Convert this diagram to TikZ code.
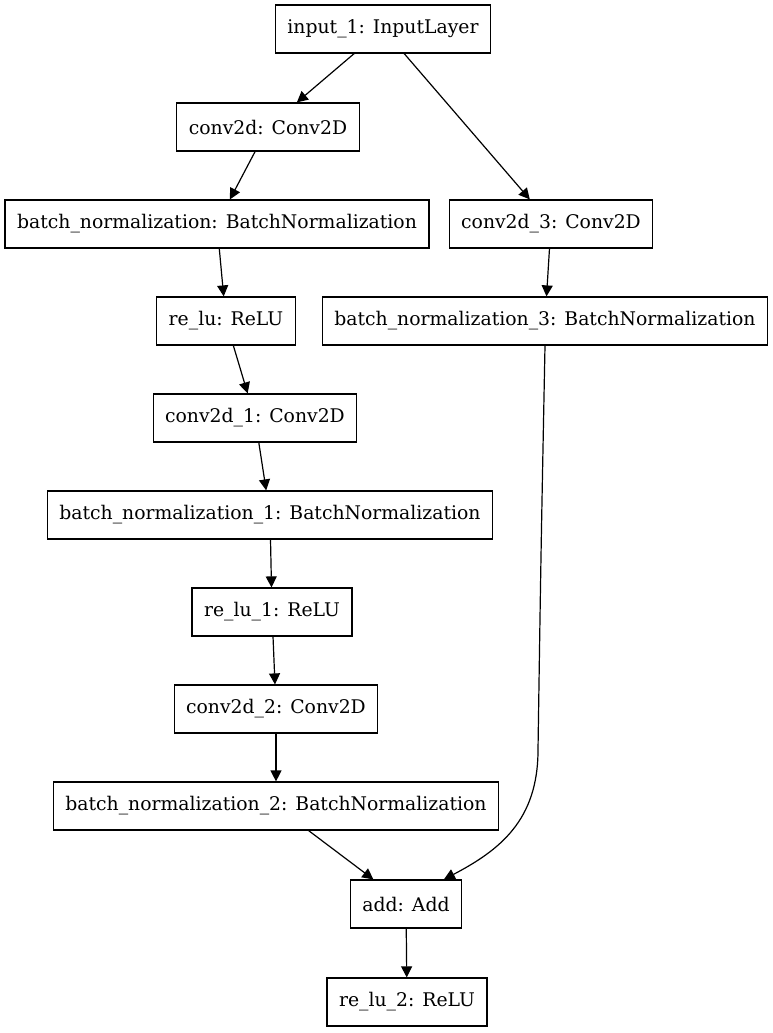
\documentclass[tikz,border=0pt]{standalone}
\usepackage{fontspec}
\setmainfont{DejaVu Serif}
\usetikzlibrary{arrows.meta}

\tikzset{
	layer/.style={draw=black, line width=0.6pt, rectangle, inner xsep=6pt,
	minimum height=24pt, font=\fontsize{9.4}{11}\selectfont},
	pfeil/.style={line width=0.6pt, -{Triangle[length=5.5pt, width=5.5pt]}}
}

\begin{document}
\begin{tikzpicture}[x=0.5pt, y=-0.5pt]
	\useasboundingbox (0, 0) rectangle (772, 1033);
	% Schichten links
	\node[layer] (input) at (383, 29) {input\_1: InputLayer};
	\node[layer] (conv) at (268, 127) {conv2d: Conv2D};
	\node[layer] (bn) at (217, 224) {batch\_normalization: BatchNormalization};
	\node[layer] (relu) at (226, 321) {re\_lu: ReLU};
	\node[layer] (convA) at (255, 418) {conv2d\_1: Conv2D};
	\node[layer] (bnA) at (270, 515) {batch\_normalization\_1: BatchNormalization};
	\node[layer] (reluA) at (272, 612) {re\_lu\_1: ReLU};
	\node[layer] (convB) at (276, 709) {conv2d\_2: Conv2D};
	\node[layer] (bnB) at (276, 806) {batch\_normalization\_2: BatchNormalization};
	% Schichten rechts
	\node[layer] (convC) at (551, 224) {conv2d\_3: Conv2D};
	\node[layer] (bnC) at (545, 321) {batch\_normalization\_3: BatchNormalization};
	% Ausgang
	\node[layer] (add) at (406, 904) {add: Add};
	\node[layer] (reluB) at (407, 1002) {re\_lu\_2: ReLU};

	% Verbindungen
	\draw[pfeil] (input) -- (conv);
	\draw[pfeil] (conv) -- (bn);
	\draw[pfeil] (bn) -- (relu);
	\draw[pfeil] (relu) -- (convA);
	\draw[pfeil] (convA) -- (bnA);
	\draw[pfeil] (bnA) -- (reluA);
	\draw[pfeil] (reluA) -- (convB);
	\draw[pfeil] (convB) -- (bnB);
	\draw[pfeil] (bnB) -- (add);
	\draw[pfeil] (input) -- (convC);
	\draw[pfeil] (convC) -- (bnC);
	\coordinate (knick) at (538, 750);
	\draw[pfeil] (bnC.south) .. controls (541, 550) .. (knick)
		.. controls (538, 820) and (500, 850) .. (add.33);
	\draw[pfeil] (add) -- (reluB);
\end{tikzpicture}
\end{document}
